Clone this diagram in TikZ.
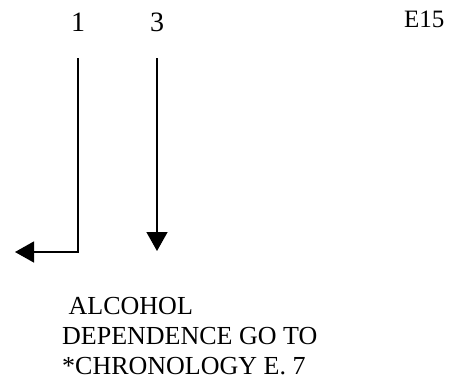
\documentclass[tikz,border=0pt]{standalone}
\usepackage{fontspec}
\setmainfont{Liberation Serif}
\usetikzlibrary{arrows.meta,positioning}

\begin{document}
\begin{tikzpicture}[x=1pt, y=-1pt, every node/.style={inner sep=0pt, font=\fontsize{26}{30}\selectfont}, flow/.style={line width=1.4pt, shorten <=27pt, -{Triangle[length=19pt,width=21pt]}}]
\useasboundingbox (0,0) rectangle (461,384);
\node (num1) [anchor=base, font=\fontsize{28}{30}\selectfont] at (78,31) {1};
\node (num3) [anchor=base, font=\fontsize{28}{30}\selectfont] at (157,31) {3};
\node (code) [anchor=base west, font=\fontsize{25}{30}\selectfont] at (404,27) {E15};
\node (goto) [anchor=north west, align=left] at (62,297) {\ ALCOHOL\\DEPENDENCE GO TO\\*CHRONOLOGY E. 7};
\coordinate (out1) at (15,252);
\coordinate (out3) at (157,251);
\draw[flow] (num1.south) |- (out1);
\draw[flow] (num3.south) -- (out3);
\end{tikzpicture}
\end{document}
